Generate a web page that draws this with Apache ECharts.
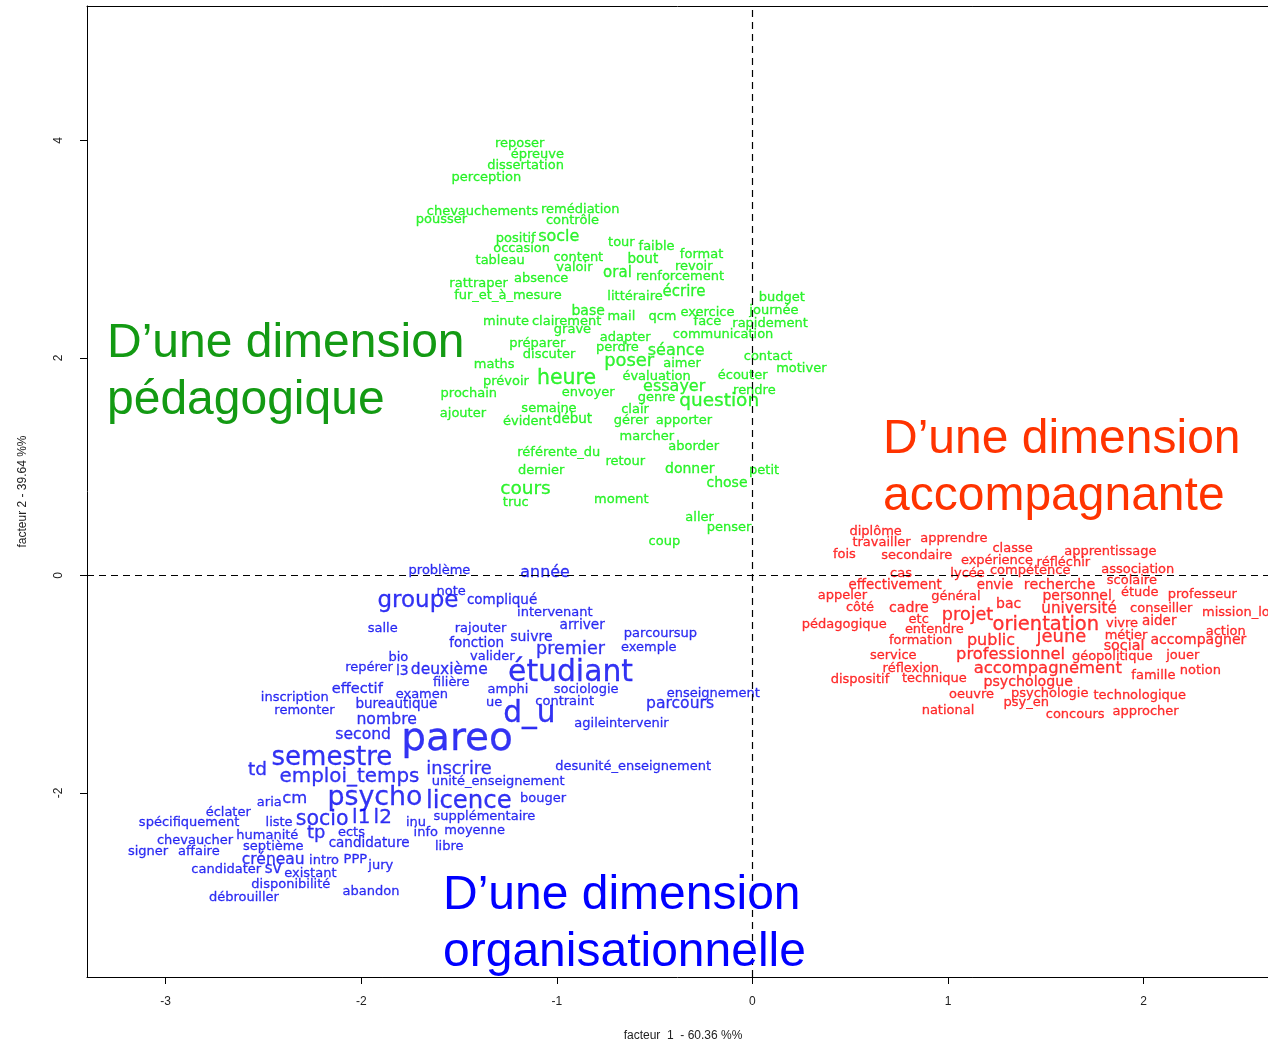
<!DOCTYPE html>
<html>
<head>
<meta charset="utf-8">
<script src="https://cdn.jsdelivr.net/npm/echarts@6/dist/echarts.min.js"></script>
<style>
html,body{margin:0;padding:0;background:#fff;}
#main{width:1268px;height:1047px;}
</style>
</head>
<body>
<div id="main"></div>
<script>
// [mot, facteur1, facteur2, poids relatif]
const motsPedagogie = [
 ['reposer',-1.19,3.97,1],['épreuve',-1.10,3.87,1],['dissertation',-1.16,3.77,1],['perception',-1.36,3.66,1],
 ['chevauchements',-1.38,3.34,1],['pousser',-1.59,3.27,1],['remédiation',-0.88,3.36,1],['contrôle',-0.92,3.26,1],
 ['positif',-1.21,3.10,1],['socle',-0.99,3.11,1.23],['occasion',-1.18,3.00,1],['tableau',-1.29,2.89,1],
 ['content',-0.89,2.92,1],['valoir',-0.91,2.83,1],['absence',-1.08,2.73,1],['oral',-0.69,2.78,1.15],
 ['tour',-0.67,3.06,1],['faible',-0.49,3.02,1],['bout',-0.56,2.90,1.04],['format',-0.26,2.95,1],
 ['revoir',-0.30,2.84,1],['renforcement',-0.37,2.75,1],['rattraper',-1.40,2.68,1],['fur_et_à_mesure',-1.25,2.57,1],
 ['littéraire',-0.60,2.56,1],['écrire',-0.35,2.60,1.15],['budget',0.15,2.55,1],['base',-0.84,2.43,1.08],
 ['mail',-0.67,2.38,1],['qcm',-0.46,2.38,1],['exercice',-0.23,2.42,1],['journée',0.11,2.43,1],
 ['face',-0.23,2.33,1],['rapidement',0.09,2.31,1],['minute',-1.26,2.33,1],['clairement',-0.95,2.33,1],
 ['grave',-0.92,2.26,1],['communication',-0.15,2.21,1],['adapter',-0.65,2.19,1],['préparer',-1.10,2.13,1],
 ['perdre',-0.69,2.09,1],['séance',-0.39,2.06,1.23],['discuter',-1.04,2.03,1],['contact',0.08,2.01,1],
 ['maths',-1.32,1.94,1],['poser',-0.63,1.97,1.38],['aimer',-0.36,1.95,1],['motiver',0.25,1.90,1],
 ['prévoir',-1.26,1.78,1],['heure',-0.95,1.81,1.58],['évaluation',-0.49,1.83,1],['écouter',-0.05,1.84,1],
 ['prochain',-1.45,1.67,1],['envoyer',-0.84,1.68,1],['essayer',-0.40,1.73,1.23],['rendre',0.01,1.70,1],
 ['genre',-0.49,1.63,1],['question',-0.17,1.60,1.42],['ajouter',-1.48,1.49,1],['semaine',-1.04,1.53,1],
 ['clair',-0.60,1.52,1],['évident',-1.15,1.41,1],['début',-0.92,1.43,1.04],['gérer',-0.62,1.42,1],
 ['apporter',-0.35,1.42,1],['marcher',-0.54,1.28,1],['aborder',-0.30,1.18,1],['référente_du',-0.99,1.13,1],
 ['retour',-0.65,1.05,1],['dernier',-1.08,0.96,1],['donner',-0.32,0.97,1.08],['petit',0.06,0.96,1],
 ['chose',-0.13,0.85,1.08],['cours',-1.16,0.79,1.42],['truc',-1.21,0.67,1],['moment',-0.67,0.70,1],
 ['aller',-0.27,0.53,1],['penser',-0.12,0.44,1],['coup',-0.45,0.31,1]
];
const motsAccompagnement = [
 ['diplôme',0.63,0.40,1],['travailler',0.66,0.30,1],['apprendre',1.03,0.34,1],['fois',0.47,0.19,1],
 ['secondaire',0.84,0.18,1],['classe',1.33,0.25,1],['apprentissage',1.83,0.22,1],['expérience',1.25,0.14,1],
 ['réfléchir',1.59,0.12,1],['cas',0.76,0.02,1],['lycée',1.10,0.02,1],['compétence',1.42,0.04,1],
 ['association',1.97,0.05,1],['scolaire',1.94,-0.05,1],['effectivement',0.73,-0.09,1.03],['envie',1.24,-0.09,1.03],
 ['recherche',1.57,-0.09,1.1],['appeler',0.46,-0.19,1],['général',1.04,-0.20,1],['personnel',1.66,-0.19,1.08],
 ['étude',1.98,-0.16,1],['professeur',2.30,-0.18,1],['côté',0.55,-0.30,1],['cadre',0.80,-0.30,1.09],
 ['bac',1.31,-0.27,1.08],['université',1.67,-0.31,1.17],['conseiller',2.09,-0.31,1],['mission_locale',2.54,-0.34,1],
 ['pédagogique',0.47,-0.45,1],['etc',0.85,-0.41,1],['projet',1.10,-0.37,1.35],['orientation',1.50,-0.46,1.5],
 ['vivre',1.89,-0.44,1],['aider',2.08,-0.42,1.04],['action',2.42,-0.52,1],['entendre',0.93,-0.50,1],
 ['métier',1.91,-0.55,1],['formation',0.86,-0.60,1],['public',1.22,-0.60,1.23],['jeune',1.58,-0.57,1.38],
 ['accompagner',2.28,-0.60,1.08],['social',1.90,-0.65,1.1],['service',0.72,-0.74,1],['professionnel',1.32,-0.73,1.25],
 ['géopolitique',1.84,-0.75,1],['jouer',2.20,-0.74,1],['réflexion',0.81,-0.86,1],['accompagnement',1.51,-0.86,1.26],
 ['famille',2.05,-0.92,1],['notion',2.29,-0.88,1],['dispositif',0.55,-0.96,1],['technique',0.93,-0.95,1],
 ['psychologue',1.41,-0.98,1.09],['oeuvre',1.12,-1.10,1],['psychologie',1.52,-1.09,1],['technologique',1.98,-1.11,1],
 ['psy_en',1.40,-1.17,1],['national',1.00,-1.24,1],['concours',1.65,-1.28,1],['approcher',2.01,-1.25,1]
];
const motsOrganisation = [
 ['problème',-1.60,0.04,1],['année',-1.06,0.02,1.22],['note',-1.54,-0.15,1],['groupe',-1.71,-0.24,1.77],
 ['compliqué',-1.28,-0.23,1.04],['intervenant',-1.01,-0.34,1],['salle',-1.89,-0.49,1],['rajouter',-1.39,-0.49,1],
 ['arriver',-0.87,-0.46,1.05],['suivre',-1.13,-0.57,1.08],['parcoursup',-0.47,-0.54,1],['fonction',-1.41,-0.63,1.04],
 ['premier',-0.93,-0.68,1.35],['exemple',-0.53,-0.66,1],['bio',-1.81,-0.76,1],['valider',-1.33,-0.75,1],
 ['repérer',-1.96,-0.85,1],['l3',-1.79,-0.88,1.08],['deuxième',-1.55,-0.87,1.19],['étudiant',-0.93,-0.90,2.29],
 ['filière',-1.54,-0.99,1],['effectif',-2.02,-1.05,1.12],['amphi',-1.25,-1.05,1],['sociologie',-0.85,-1.05,1],
 ['enseignement',-0.20,-1.09,1],['inscription',-2.34,-1.12,1],['examen',-1.69,-1.10,1],['ue',-1.32,-1.17,1],
 ['contraint',-0.96,-1.16,1],['parcours',-0.37,-1.18,1.2],['remonter',-2.29,-1.24,1],['bureautique',-1.82,-1.19,1.04],
 ['d_u',-1.14,-1.28,2.28],['agile',-0.83,-1.36,1],['intervenir',-0.59,-1.36,1],['nombre',-1.87,-1.33,1.21],
 ['second',-1.99,-1.47,1.2],['pareo',-1.51,-1.51,3.0],['semestre',-2.15,-1.68,2.0],['td',-2.53,-1.79,1.42],
 ['emploi_temps',-2.06,-1.85,1.53],['inscrire',-1.50,-1.78,1.37],['unité_enseignement',-1.30,-1.90,1],['desunité_enseignement',-0.61,-1.76,1],
 ['aria',-2.47,-2.09,1],['cm',-2.34,-2.05,1.26],['psycho',-1.93,-2.05,2.06],['licence',-1.45,-2.08,1.88],
 ['bouger',-1.07,-2.05,1],['éclater',-2.68,-2.18,1],['spécifiquement',-2.88,-2.27,1],['liste',-2.42,-2.27,1],
 ['socio',-2.20,-2.25,1.58],['l1',-2.00,-2.23,1.54],['l2',-1.89,-2.23,1.54],['inu',-1.72,-2.27,1],
 ['supplémentaire',-1.37,-2.22,1],['humanité',-2.48,-2.39,1],['tp',-2.23,-2.37,1.38],['ects',-2.05,-2.37,1],
 ['info',-1.67,-2.37,1],['moyenne',-1.42,-2.35,1],['chevaucher',-2.85,-2.44,1],['septième',-2.45,-2.49,1],
 ['candidature',-1.96,-2.47,1.04],['libre',-1.55,-2.49,1],['signer',-3.09,-2.54,1],['affaire',-2.83,-2.54,1],
 ['créneau',-2.45,-2.62,1.19],['intro',-2.19,-2.62,1],['PPP',-2.03,-2.61,1],['jury',-1.90,-2.67,1],
 ['candidater',-2.69,-2.71,1],['sv',-2.45,-2.70,1.15],['existant',-2.26,-2.74,1],['disponibilité',-2.36,-2.84,1],
 ['abandon',-1.95,-2.91,1],['débrouiller',-2.60,-2.96,1]
];
const ticksX = [-3,-2,-1,0,1,2];
const ticksY = [-2,0,2,4];
const titres = [
 ['D’une dimension','pédagogique'],
 ['D’une dimension','accompagnante'],
 ['D’une dimension','organisationnelle']
];

const BASE = 13;
const WORD_FONT = '"DejaVu Sans", Verdana, sans-serif';
function serie(mots, couleur) {
  return {
    type: 'scatter',
    symbolSize: 0,
    silent: true,
    data: mots.map(m => {
      const fs = Math.round(BASE * m[3] * 10) / 10;
      return {
        name: m[0],
        value: [m[1], m[2]],
        label: { fontSize: fs, offset: [0, Math.round(fs * 0.1 * 10) / 10] }
      };
    }),
    label: {
      show: true,
      position: 'inside',
      formatter: '{b}',
      color: couleur,
      textBorderColor: couleur,
      textBorderWidth: 0.3,
      fontFamily: WORD_FONT,
      align: 'center',
      verticalAlign: 'middle'
    },
    labelLayout: { hideOverlap: false },
    z: 3
  };
}

const chart = echarts.init(document.getElementById('main'), null, { renderer: 'canvas' });
const axisFont = '"Liberation Sans", Arial, sans-serif';
const bigFont = '48px "Liberation Sans", Arial, sans-serif';
function big(text, x, y, color) {
  return { type: 'text', x: x, y: y, silent: true, z: 10,
    style: { text: text, font: bigFont, fill: color, verticalAlign: 'middle', align: 'left' } };
}
const XMIN = -3.402, XMAX = 2.636;

chart.setOption({
  animation: false,
  backgroundColor: '#ffffff',
  grid: { left: 87, top: 6, right: 0, bottom: 64, show: false, containLabel: false },
  xAxis: [{
    type: 'value', min: XMIN, max: XMAX,
    axisLine: { show: true, onZero: false, lineStyle: { color: '#000', width: 1 } },
    axisTick: { show: true, length: 7, customValues: ticksX, lineStyle: { color: '#000' } },
    axisLabel: { customValues: ticksX, color: '#222', fontSize: 12, fontFamily: axisFont, margin: 19 },
    splitLine: { show: false },
    name: 'facteur  1  - 60.36 %%', nameLocation: 'middle', nameGap: 53,
    nameTextStyle: { color: '#222', fontSize: 12, fontFamily: axisFont, padding: [0, 0, 0, 11] }
  }, {
    type: 'value', min: XMIN, max: XMAX, position: 'top',
    axisLine: { show: true, onZero: false, lineStyle: { color: '#000', width: 1 } },
    axisTick: { show: false }, axisLabel: { show: false }, splitLine: { show: false }
  }],
  yAxis: {
    type: 'value', min: -3.693, max: 5.235,
    axisLine: { show: true, onZero: false, lineStyle: { color: '#000', width: 1 } },
    axisTick: { show: true, length: 7, customValues: ticksY, lineStyle: { color: '#000' } },
    axisLabel: { customValues: ticksY, rotate: 90, color: '#222', fontSize: 12, fontFamily: axisFont, margin: 22 },
    splitLine: { show: false },
    name: 'facteur 2 - 39.64 %%', nameLocation: 'middle', nameGap: 58, nameRotate: 90,
    nameTextStyle: { color: '#222', fontSize: 12, fontFamily: axisFont }
  },
  series: [
    Object.assign(serie(motsPedagogie, '#00f000'), {
      markLine: {
        silent: true, symbol: ['none', 'none'], label: { show: false },
        lineStyle: { color: '#000', type: [7, 5], width: 1.2 },
        data: [{ xAxis: 0 }, { yAxis: 0 }]
      }
    }),
    serie(motsAccompagnement, '#ff0000'),
    serie(motsOrganisation, '#0000f0')
  ],
  graphic: [
    big(titres[0][0], 107, 343.7, '#139a13'),
    big(titres[0][1], 107, 400.7, '#139a13'),
    big(titres[1][0], 883, 439.7, '#ff3300'),
    big(titres[1][1], 883, 496.7, '#ff3300'),
    big(titres[2][0], 443, 895.7, '#0000ff'),
    big(titres[2][1], 443, 952.7, '#0000ff')
  ]
});
</script>
</body>
</html>
